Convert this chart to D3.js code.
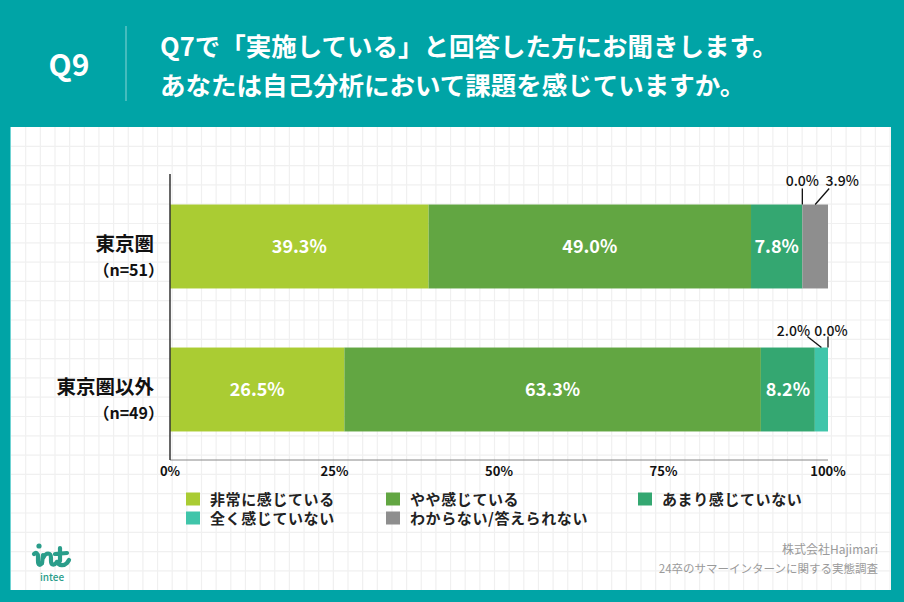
<!DOCTYPE html>
<html><head><meta charset="utf-8">
<script src="https://cdn.jsdelivr.net/npm/d3@7/dist/d3.min.js"></script>
<style>
html,body{margin:0;padding:0;background:#00A4A6;}
svg{display:block;}
text{font-family:"Noto Sans CJK JP","Noto Sans",sans-serif;}
</style></head>
<body>
<svg id="c" width="904" height="602"></svg>
<script>
// ---- data ----
const questionNo = "Q9";
const titleLines = ["Q7で「実施している」と回答した方にお聞きします。", "あなたは自己分析において課題を感じていますか。"];
const categories = ["東京圏", "東京圏以外"];
const sampleSizes = ["（n=51）", "（n=49）"];
const seriesNames = ["非常に感じている", "やや感じている", "あまり感じていない", "全く感じていない", "わからない/答えられない"];
const seriesColors = ["#AACC33", "#62A642", "#34A771", "#40C5AA", "#8E8E8E"];
const valuesTokyo = [39.3, 49.0, 7.8, 0.0, 3.9];
const valuesOther = [26.5, 63.3, 8.2, 2.0, 0.0];
const tickValues = [0, 25, 50, 75, 100];
const tickLabels = ["0%", "25%", "50%", "75%", "100%"];
const sourceLines = ["株式会社Hajimari", "24卒のサマーインターンに関する実態調査"];

const rows = [valuesTokyo, valuesOther];

// ---- layout ----
const svg = d3.select("#c");
const W = 904, H = 602;
const teal = "#00A4A6";

svg.append("rect").attr("width", W).attr("height", H).attr("fill", teal);
// panel
const panel = {x: 10, y: 127, w: 881, h: 463};
svg.append("rect").attr("x", panel.x).attr("y", panel.y).attr("width", panel.w).attr("height", panel.h).attr("fill", "#fff");
const grid = svg.append("g").attr("stroke", "#f0f0f0").attr("stroke-width", 1.2);
for (let gx = 25.7; gx < panel.x + panel.w; gx += 14.65) {
  grid.append("line").attr("x1", gx).attr("x2", gx).attr("y1", panel.y).attr("y2", panel.y + panel.h);
}
for (let gy = 146.3; gy < panel.y + panel.h; gy += 19.3) {
  grid.append("line").attr("x1", panel.x).attr("x2", panel.x + panel.w).attr("y1", gy).attr("y2", gy);
}
svg.append("line").attr("x1", panel.x + 0.5).attr("x2", panel.x + 0.5).attr("y1", panel.y).attr("y2", panel.y + panel.h)
  .attr("stroke", "#6fd3d3").attr("stroke-width", 1);

// header
svg.append("text").attr("x", 69).attr("y", 76).attr("text-anchor", "middle")
  .attr("fill", "#fff").attr("font-size", 30).attr("font-weight", 700).text(questionNo);
svg.append("line").attr("x1", 126).attr("x2", 126).attr("y1", 26).attr("y2", 101)
  .attr("stroke", "rgba(255,255,255,0.45)").attr("stroke-width", 1.2);
titleLines.forEach((t, i) => {
  svg.append("text").attr("x", 160).attr("y", 56 + i * 39).attr("fill", "#fff")
    .attr("font-size", 25.5).attr("font-weight", 700).text(t);
});

// scales
const x = d3.scaleLinear().domain([0, 100]).range([170, 828]);
const y = d3.scaleBand().domain(categories).range([175, 461]).paddingInner(0.413).paddingOuter(0.2065);

// axis lines
svg.append("line").attr("x1", 170).attr("x2", 828).attr("y1", 460).attr("y2", 460).attr("stroke", "#888").attr("stroke-width", 1);

// bars
const chart = svg.append("g");
const stacked = rows.map((vals, ri) => {
  let acc = 0;
  return vals.map((v, si) => { const s = {row: ri, series: si, v, x0: acc, x1: acc + v}; acc += v; return s; });
});
stacked.forEach((segs, ri) => {
  const cat = categories[ri];
  chart.selectAll(null).data(segs.filter(s => s.v > 0)).enter().append("rect")
    .attr("x", d => x(d.x0)).attr("width", d => x(d.x1) - x(d.x0))
    .attr("y", y(cat)).attr("height", y.bandwidth())
    .attr("fill", d => seriesColors[d.series]);
  chart.selectAll(null).data(segs.filter(s => s.v >= 5)).enter().append("text")
    .attr("x", d => x((d.x0 + d.x1) / 2)).attr("y", y(cat) + y.bandwidth() / 2 + 6.5)
    .attr("text-anchor", "middle").attr("fill", "#fff").attr("font-size", 18).attr("font-weight", 700)
    .text(d => d.v.toFixed(1) + "%");
});

// small-value callouts (label offsets are layout)
const callouts = [
  {row: 0, series: 3, dx: 0, base: 19, lineTop: 16},
  {row: 0, series: 4, dx: 27, base: 19, lineTop: 16},
  {row: 1, series: 3, dx: -28, base: 12, lineTop: 11},
  {row: 1, series: 4, dx: 3, base: 12, lineTop: 11}
];
callouts.forEach(c => {
  const s = stacked[c.row][c.series];
  const cat = categories[c.row];
  const top = y(cat);
  const cx = x((s.x0 + s.x1) / 2);
  const lx = cx + c.dx;
  svg.append("text").attr("x", lx).attr("y", top - c.base).attr("text-anchor", "middle")
    .attr("fill", "#111").attr("font-size", 14).attr("font-weight", 500).text(s.v.toFixed(1) + "%");
  const ex = c.dx === 0 ? cx : (c.dx > 0 ? lx - 13 : lx + 14);
  svg.append("line").attr("x1", cx).attr("y1", top).attr("x2", c.dx > 0 && c.dx < 10 ? cx : ex).attr("y2", top - c.lineTop)
    .attr("stroke", "#111").attr("stroke-width", 1.3);
});

svg.append("line").attr("x1", 170).attr("x2", 170).attr("y1", 174).attr("y2", 460).attr("stroke", "#333").attr("stroke-width", 1.5);

// x ticks
svg.selectAll(null).data(tickValues).enter().append("text")
  .attr("x", d => x(d)).attr("y", 476).attr("text-anchor", "middle")
  .attr("fill", "#111").attr("font-size", 13).attr("font-weight", 700)
  .text((d, i) => tickLabels[i]);

// category labels
categories.forEach((c, i) => {
  const cy = y(c) + y.bandwidth() / 2;
  svg.append("text").attr("x", 154).attr("y", cy + 4).attr("text-anchor", "end")
    .attr("fill", "#111").attr("font-size", 19.5).attr("font-weight", 700).text(c);
  svg.append("text").attr("x", 164).attr("y", cy + 29).attr("text-anchor", "end")
    .attr("fill", "#111").attr("font-size", 16).attr("font-weight", 700).text(sampleSizes[i]);
});

// legend
const legendPos = [[186, 499], [386, 499], [638, 499], [186, 518], [386, 518]];
seriesNames.forEach((n, i) => {
  const [lx, ly] = legendPos[i];
  svg.append("rect").attr("x", lx).attr("y", ly - 6.5).attr("width", 14).attr("height", 13).attr("fill", seriesColors[i]);
  svg.append("text").attr("x", lx + 24).attr("y", ly + 5.5).attr("fill", "#222")
    .attr("font-size", 15).attr("letter-spacing", 0.6).attr("font-weight", 700).text(n);
});

// source
sourceLines.forEach((t, i) => {
  svg.append("text").attr("x", 878).attr("y", 554 + i * 19).attr("text-anchor", "end")
    .attr("fill", "#9a9a9a").attr("font-size", i === 0 ? 12 : 11.5).text(t);
});

// logo
const logoColor = "#2A9D8A";
const logo = svg.append("g").attr("fill", "none").attr("stroke", logoColor).attr("stroke-width", 4.2)
  .attr("stroke-linecap", "round").attr("stroke-linejoin", "round");
logo.append("path").attr("d", "M34,554 C36,552 38,553 38,557 L38,561 C38,565 40,566 42,563");
logo.append("path").attr("d", "M42,563 L43,555 M43,558 C46,552 51,552 51,558 L51,561 C51,565 54,566 57,562");
logo.append("path").attr("d", "M57,562 C59,566 64,566 67,563 L69,560 M60,548 L60,561 M55,554 L67,553");
svg.append("circle").attr("cx", 39).attr("cy", 546).attr("r", 2.6).attr("fill", logoColor);
svg.append("text").attr("x", 52).attr("y", 581).attr("text-anchor", "middle").attr("fill", logoColor)
  .attr("font-size", 10).attr("font-weight", 500).text("intee");
</script>
</body></html>
